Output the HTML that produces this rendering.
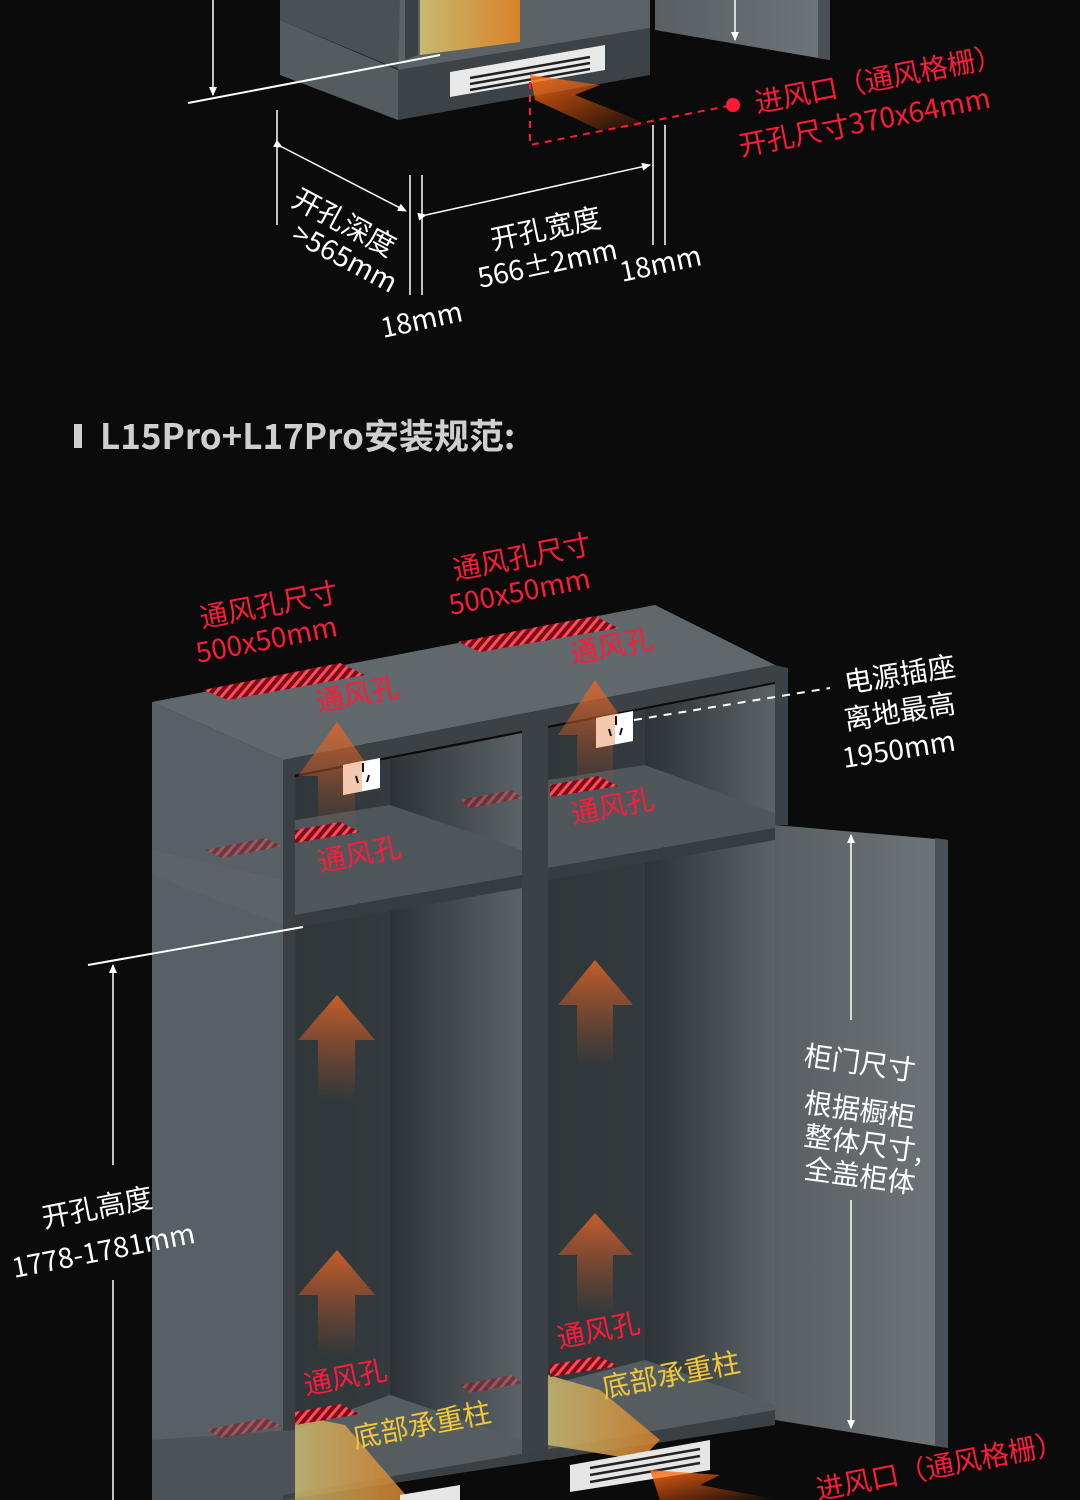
<!DOCTYPE html>
<html><head><meta charset="utf-8"><style>
html,body{margin:0;padding:0;background:#0b0b0b;}
svg{display:block}
text{font-family:"Noto Sans CJK SC","Liberation Sans",sans-serif;}
</style></head><body>
<svg width="1080" height="1500" viewBox="0 0 1080 1500" xmlns="http://www.w3.org/2000/svg">
<defs>
<pattern id="hatch" width="7" height="7" patternUnits="userSpaceOnUse" patternTransform="rotate(40)">
<rect width="7" height="7" fill="#7a0c18"/><rect width="3" height="7" fill="#ff4a5a"/></pattern>
<linearGradient id="arrow" x1="0" y1="0" x2="0" y2="1">
<stop offset="0" stop-color="#e0652a" stop-opacity="0.85"/><stop offset="1" stop-color="#c05020" stop-opacity="0"/></linearGradient>
<linearGradient id="inner" x1="0" y1="0" x2="1" y2="0">
<stop offset="0" stop-color="#2c3235"/><stop offset="1" stop-color="#5c6366"/></linearGradient>
<linearGradient id="innerB" x1="0" y1="0" x2="1" y2="0">
<stop offset="0" stop-color="#30373a"/><stop offset="1" stop-color="#394043"/></linearGradient>
<linearGradient id="door" x1="0" y1="0" x2="1" y2="0">
<stop offset="0" stop-color="#585e62"/><stop offset="1" stop-color="#6f7679"/></linearGradient>
<linearGradient id="gold" x1="0" y1="0" x2="1" y2="0">
<stop offset="0" stop-color="#c8b870"/><stop offset="1" stop-color="#d9822a"/></linearGradient>
<linearGradient id="inair" x1="1" y1="1" x2="0" y2="0">
<stop offset="0" stop-color="#ff5a10" stop-opacity="0"/><stop offset="1" stop-color="#ff6a10" stop-opacity="0.9"/></linearGradient>
<marker id="ah" markerWidth="10" markerHeight="10" refX="8" refY="5" orient="auto" markerUnits="userSpaceOnUse"><path d="M0,1 L9,5 L0,9 z" fill="#fff"/></marker>
</defs>

<polygon points="280,0 400,0 400,70 280,20" fill="#4a5155"/>
<polygon points="280,20 398,70 398,120 280,75" fill="#555c60"/>
<polygon points="398,70 650,28 650,75 398,120" fill="#3c4246"/>
<polygon points="400,0 650,0 650,28 398,70" fill="#5a6266"/>
<polygon points="420,0 520,0 520,42 420,55" fill="url(#gold)"/>
<polygon points="405,0 418,0 418,55 405,60" fill="#3a4044"/>
<polygon points="655,0 830,0 830,60 655,30" fill="url(#door)"/>
<polygon points="818,0 830,0 830,60 818,58" fill="#4a5054"/>
<polygon points="450,72 605,45 605,70 450,97" fill="#e9e9e9"/>
<g stroke="#222" stroke-width="2.5"><line x1="470" y1="78" x2="590" y2="57"/><line x1="470" y1="84" x2="590" y2="63"/><line x1="470" y1="90" x2="590" y2="69"/></g>
<polygon points="530,75 600,85 575,95 650,125 600,130 535,100" fill="url(#inair)"/>
<line x1="213" y1="0" x2="213" y2="95" stroke="#fff" stroke-width="1.5" marker-end="url(#ah)"/>
<line x1="188" y1="103" x2="440" y2="55" stroke="#fff" stroke-width="2"/>
<line x1="735" y1="0" x2="735" y2="40" stroke="#fff" stroke-width="1.5" marker-end="url(#ah)"/>
<g stroke="#fff" stroke-width="1.5">
<line x1="277" y1="110" x2="277" y2="225"/><line x1="410" y1="175" x2="410" y2="295"/><line x1="422" y1="175" x2="422" y2="295"/>
<line x1="653" y1="125" x2="653" y2="245"/><line x1="665" y1="125" x2="665" y2="245"/>
<line x1="282" y1="147" x2="406" y2="211" marker-end="url(#ah)" marker-start="url(#ah)"/>
<line x1="426" y1="215" x2="650" y2="165" marker-end="url(#ah)" marker-start="url(#ah)"/>
</g>
<polyline points="530,82 530,145 733,105" fill="none" stroke="#ff1a3a" stroke-width="2" stroke-dasharray="7,6"/>
<circle cx="733" cy="105" r="7" fill="#ff1a3a"/>
<g fill="#ff1a3a" font-size="28">
<text transform="translate(757,113) rotate(-11)">进风口（通风格栅）</text>
<text transform="translate(741,156) rotate(-11)">开孔尺寸370x64mm</text>
</g>
<g fill="#fff" font-size="28">
<text transform="translate(290,205) rotate(28)">开孔深度</text>
<text transform="translate(290,240) rotate(28)">&gt;565mm</text>
<text transform="translate(493,250) rotate(-12)">开孔宽度</text>
<text transform="translate(480,288) rotate(-12)">566±2mm</text>
<text transform="translate(622,282) rotate(-12)">18mm</text>
<text transform="translate(383,338) rotate(-12)">18mm</text>
</g>

<rect x="74" y="424" width="8" height="24" fill="#cfcfcf"/>
<text x="100" y="449" font-size="35" font-weight="bold" fill="#cfcfcf">L15Pro+L17Pro安装规范:</text>

<polygon points="152,702 283,760 283,1500 152,1500" fill="#576064"/>
<polygon points="152,850 283,880 283,925 152,875" fill="#5f676b" opacity="0.6"/>
<polygon points="152,702 655,605 775,665 283,760" fill="#60686c"/>
<polygon points="283,760 775,665 775,682 283,777" fill="#3b4145"/>
<polygon points="295,777 522,733 522,1450 295,1495" fill="url(#innerB)"/>
<polygon points="390,760 522,733 522,1450 390,1425" fill="url(#inner)"/>
<polygon points="548,728 775,684 775,1410 548,1445" fill="url(#innerB)"/>
<polygon points="645,710 775,684 775,1410 645,1395" fill="url(#inner)"/>
<polygon points="295,820 390,805 522,850 522,875 295,915" fill="#4f575b"/>
<polygon points="295,915 522,875 522,888 295,928" fill="#363c40"/>
<polygon points="548,780 645,765 775,813 775,828 548,868" fill="#4f575b"/>
<polygon points="548,868 775,828 775,840 548,880" fill="#363c40"/>
<polygon points="295,1430 390,1395 522,1440 522,1455 295,1495" fill="#555d61"/>
<polygon points="548,1385 645,1360 775,1405 775,1420 548,1460" fill="#555d61"/>
<rect x="283" y="770" width="12" height="730" fill="#393f43"/>
<polygon points="522,728 548,723 548,1450 522,1455" fill="#3b4145"/>
<polygon points="775,665 788,668 788,825 775,825" fill="#3b4145"/>
<polygon points="152,1440 295,1430 295,1500 152,1500" fill="#4c5357"/>
<polygon points="283,1495 775,1410 775,1425 283,1500" fill="#3a4044"/>
<polygon points="295,1415 345,1425 410,1500 295,1500" fill="url(#gold)" opacity="0.85"/>
<polygon points="548,1375 600,1390 660,1440 640,1460 548,1445" fill="url(#gold)" opacity="0.85"/>
<polygon points="775,825 948,840 948,1448 775,1420" fill="url(#door)"/>
<polygon points="935,838 948,840 948,1448 935,1446" fill="#4a5054"/>
<polygon points="570,1465 710,1440 710,1470 570,1492" fill="#e6e6e6"/>
<g stroke="#222" stroke-width="2.5"><line x1="590" y1="1468" x2="700" y2="1449"/><line x1="590" y1="1475" x2="700" y2="1456"/><line x1="590" y1="1482" x2="700" y2="1463"/></g>
<polygon points="400,1495 460,1485 460,1500 400,1500" fill="#e6e6e6"/>
<polygon points="650,1470 720,1475 700,1485 780,1500 660,1500" fill="url(#inair)"/>

<g fill="url(#arrow)">
<path d="M298,776 L337,722 L375,776 L355,776 L355,830 L318,830 L318,776 z"/>
<path d="M558,735 L595,680 L633,735 L613,735 L613,790 L577,790 L577,735 z"/>
<path d="M298,1040 L337,995 L375,1040 L355,1040 L355,1100 L318,1100 L318,1040 z"/>
<path d="M558,1005 L595,960 L633,1005 L613,1005 L613,1065 L577,1065 L577,1005 z"/>
<path d="M298,1295 L337,1250 L375,1295 L355,1295 L355,1355 L318,1355 L318,1295 z"/>
<path d="M558,1255 L595,1213 L633,1255 L613,1255 L613,1315 L577,1315 L577,1255 z"/>
</g>
<polygon points="343,765 380,758 380,788 343,795" fill="#fff"/>
<polygon points="343,765 362,761 362,791 343,795" fill="#f5c8b0"/>
<polygon points="596,718 633,711 633,741 596,748" fill="#fff"/>
<polygon points="596,718 615,714 615,744 596,748" fill="#f5c8b0"/>
<g stroke="#111" stroke-width="2"><line x1="363" y1="763" x2="363" y2="772"/><line x1="356" y1="776" x2="358" y2="783"/><line x1="369" y1="775" x2="367" y2="782"/>
<line x1="616" y1="716" x2="616" y2="725"/><line x1="609" y1="729" x2="611" y2="736"/><line x1="622" y1="728" x2="620" y2="735"/></g>
<g fill="url(#hatch)">
<polygon points="203,690 340,663 365,675 228,700"/>
<polygon points="458,642 595,616 618,628 480,652"/>
<polygon points="295,830 340,822 360,832 295,843"/>
<polygon points="550,785 598,776 618,786 550,797"/>
<polygon points="295,1412 340,1404 360,1414 295,1425"/>
<polygon points="550,1365 598,1356 618,1366 550,1377"/>
</g>
<g fill="url(#hatch)" opacity="0.45">
<polygon points="205,850 265,838 282,846 222,858"/>
<polygon points="460,800 512,790 522,798 470,808"/>
<polygon points="205,1430 265,1418 282,1426 222,1438"/>
<polygon points="460,1385 512,1375 522,1383 470,1393"/>
</g>
<g fill="#ff1a3a" font-size="28">
<text transform="translate(202,628) rotate(-11)">通风孔尺寸</text>
<text transform="translate(198,663) rotate(-11)">500x50mm</text>
<text transform="translate(455,580) rotate(-11)">通风孔尺寸</text>
<text transform="translate(451,615) rotate(-11)">500x50mm</text>
<text transform="translate(318,712) rotate(-11)">通风孔</text>
<text transform="translate(572,664) rotate(-11)">通风孔</text>
<text transform="translate(320,872) rotate(-11)">通风孔</text>
<text transform="translate(573,824) rotate(-11)">通风孔</text>
<text transform="translate(306,1395) rotate(-11)">通风孔</text>
<text transform="translate(559,1348) rotate(-11)">通风孔</text>
<text transform="translate(818,1500) rotate(-11)">进风口（通风格栅）</text>
</g>
<g fill="#f2c838" font-size="28">
<text transform="translate(355,1448) rotate(-11)">底部承重柱</text>
<text transform="translate(604,1398) rotate(-11)">底部承重柱</text>
</g>
<line x1="88" y1="965" x2="303" y2="927" stroke="#fff" stroke-width="2"/>
<line x1="113" y1="1165" x2="113" y2="965" stroke="#fff" stroke-width="1.5" marker-end="url(#ah)"/>
<line x1="113" y1="1280" x2="113" y2="1500" stroke="#fff" stroke-width="1.5"/>
<line x1="851" y1="1020" x2="851" y2="835" stroke="#fff" stroke-width="1.5" marker-end="url(#ah)"/>
<line x1="851" y1="1200" x2="851" y2="1428" stroke="#fff" stroke-width="1.5" marker-end="url(#ah)"/>
<line x1="634" y1="720" x2="830" y2="688" stroke="#fff" stroke-width="2" stroke-dasharray="8,7"/>
<g fill="#fff" font-size="28">
<text transform="translate(44,1228) rotate(-11)">开孔高度</text>
<text transform="translate(14,1278) rotate(-11)">1778-1781mm</text>
<text transform="translate(846,693) rotate(-9)">电源插座</text>
<text transform="translate(846,730) rotate(-9)">离地最高</text>
<text transform="translate(844,768) rotate(-9)">1950mm</text>
</g>
<g fill="#fff" font-size="28">
<text transform="translate(803,1065) rotate(8)">柜门尺寸</text>
<text transform="translate(803,1112) rotate(8)">根据橱柜</text>
<text transform="translate(803,1145) rotate(8)">整体尺寸,</text>
<text transform="translate(803,1178) rotate(8)">全盖柜体</text>
</g>
</svg>
</body></html>
